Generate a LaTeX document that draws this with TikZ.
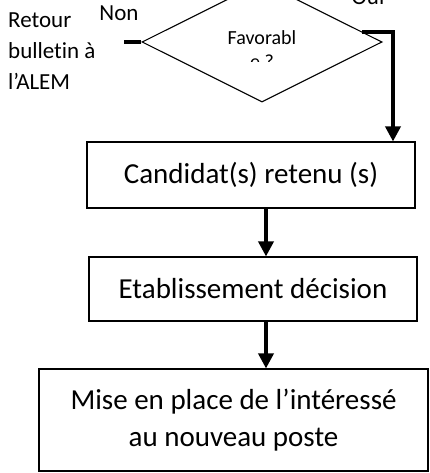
\documentclass[tikz,border=0pt]{standalone}
\usepackage{fontspec}
\setmainfont{Carlito}[Ligatures=NoCommon]
\usetikzlibrary{shapes.geometric, calc, arrows.meta, positioning}
\tikzset{>={Triangle[length=15pt, width=15pt]}}

\begin{document}
\begin{tikzpicture}[x=1pt, y=-1pt,
  stage/.style={draw, line width=1.1pt, inner sep=0pt, align=center, font=\fontsize{29}{37}\selectfont},
  choice/.style={diamond, draw, line width=1.1pt, aspect=2, minimum width=240pt, minimum height=120pt, inner sep=0pt},
  flow/.style={->, line width=3.5pt},
  branch/.style={line width=3.5pt},
  sidetext/.style={font=\fontsize{23}{31}\selectfont, inner sep=0pt}
]

% Page frame
\useasboundingbox (0,0) rectangle (430,473);
\clip (0,0) rectangle (430,473);

% Columns of the connectors
\coordinate (col) at (266,0);
\coordinate (ouicol) at (393,0);

% Decision
\node[choice] (dec) at (262,42) {};
\begin{scope}
  \clip (200,20) rectangle (330,62);
  \node[font=\fontsize{20}{24}\selectfont, align=center, anchor=base, inner sep=0pt] (decq) at (262,69) {Favorabl\\e ?};
\end{scope}

% Stages
\node[stage, minimum width=328pt, minimum height=66pt] (b1) at (251,175) {Candidat(s) retenu (s)};
\node[stage, minimum width=328pt, minimum height=64pt] (b2) at (253,289) {Etablissement décision};
\node[stage, minimum width=389pt, minimum height=102pt] (b3) at (233.5,420) {Mise en place de l’intéressé\\au nouveau poste};

% Branch labels
\node[sidetext, anchor=base] (non) at (119,21) {Non};
\node[sidetext, anchor=base] (oui) at (368,5) {Oui};
\node[sidetext, anchor=base west, align=left] (ret) at (8,90) {Retour\\bulletin à\\l’ALEM};

% Connectors
\coordinate (nonend) at (124,42);
\draw[branch] (dec.west) -- (nonend);
\draw[flow] ($(dec.east)!0.1667!(dec.north)$) -| (b1.north -| ouicol);
\draw[flow] (b1.south -| col) -- (b2.north -| col);
\draw[flow] (b2.south -| col) -- (b3.north -| col);

\end{tikzpicture}
\end{document}
